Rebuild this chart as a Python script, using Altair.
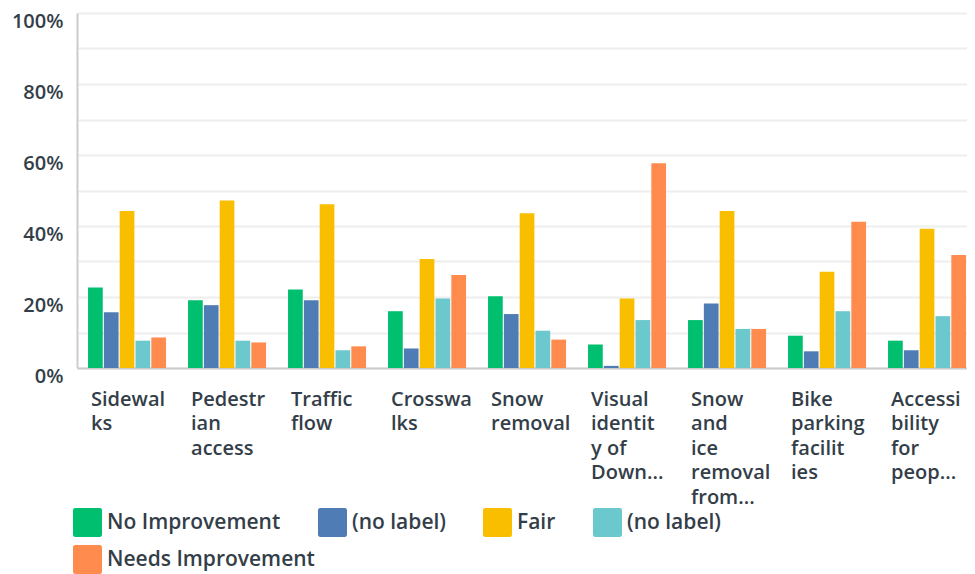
import altair as alt
import pandas as pd

category_labels = ["Sidewal|ks", "Pedestr|ian|access", "Traffic|flow", "Crosswa|lks",
                   "Snow|removal", "Visual|identit|y of|Down...", "Snow|and|ice|removal|from...",
                   "Bike|parking|facilit|ies", "Accessi|bility|for|peop..."]
series_names = ["No Improvement", "(no label)", "Fair", "(no label)", "Needs Improvement"]
series_colors = ["#00BF6F", "#507CB6", "#F9BE00", "#6BC8CD", "#FF8B4F"]

no_improvement = [22.7, 19.1, 22.1, 16.0, 20.2, 6.6, 13.5, 9.1, 7.7]
no_label_1 = [15.7, 17.7, 19.1, 5.5, 15.2, 0.6, 18.2, 4.7, 5.0]
fair = [44.2, 47.2, 46.1, 30.7, 43.6, 19.6, 44.2, 27.1, 39.2]
no_label_2 = [7.7, 7.7, 5.0, 19.6, 10.5, 13.5, 11.0, 16.0, 14.6]
needs_improvement = [8.6, 7.2, 6.1, 26.2, 8.0, 57.7, 11.0, 41.2, 31.8]

series_values = [no_improvement, no_label_1, fair, no_label_2, needs_improvement]
series_keys = [f"{i + 1}|{n}" for i, n in enumerate(series_names)]

rows = []
for key, vals in zip(series_keys, series_values):
    for cat, v in zip(category_labels, vals):
        rows.append({"category": cat, "series": key, "value": v})
df = pd.DataFrame(rows)

TEXT = "#333e48"
FONT = "Open Sans"
rounded_square = ("M -0.85,-1 H 0.85 A 0.15,0.15 0 0 1 1,-0.85 V 0.85 A 0.15,0.15 0 0 1 0.85,1 "
                  "H -0.85 A 0.15,0.15 0 0 1 -1,0.85 V -0.85 A 0.15,0.15 0 0 1 -0.85,-1 Z")

LEG_X = -4
LEG_Y = 495
ROW_STEP = 37


def legend(y):
    return alt.Legend(title=None, orient="none", legendX=LEG_X, legendY=y,
                      direction="horizontal", columns=4,
                      labelExpr="split(datum.label, '|')[1]",
                      symbolType=rounded_square, symbolSize=841,
                      symbolStrokeWidth=0, symbolOpacity=1,
                      labelFontSize=21, labelFontWeight=600, labelColor=TEXT,
                      labelFont=FONT, labelOffset=5, columnPadding=37,
                      rowPadding=8, labelLimit=0)


base = alt.Chart(df).mark_bar().encode(
    x=alt.X("category:N", sort=category_labels, title=None,
            scale=alt.Scale(paddingInner=0.22, paddingOuter=0.06, align=0.92),
            axis=alt.Axis(labelExpr="split(datum.label, '|')", labelAngle=0, labelAlign="left",
                          labelBaseline="top", labelPadding=21, labelLineHeight=24.5,
                          labelFontSize=20, labelFontWeight=600, labelColor=TEXT, labelFont=FONT,
                          ticks=False, domainColor="#cccccc", domainWidth=2, labelOverlap=False,
                          labelLimit=0, labelOffset=-36)),
    xOffset=alt.XOffset("series:N", sort=series_keys,
                        scale=alt.Scale(domain=series_keys, paddingInner=0.07)),
    y=alt.Y("value:Q", title=None, scale=alt.Scale(domain=[0, 100], nice=False),
            axis=alt.Axis(values=list(range(0, 101, 10)),
                          labelExpr="datum.value % 20 == 0 ? datum.value + '%' : ''",
                          gridColor="#eeeeee", gridWidth=2, domainColor="#cccccc", domainWidth=2,
                          ticks=False, labelPadding=14, labelBaseline="middle", labelOffset=8,
                          labelFontSize=20, labelFontWeight=600, labelColor=TEXT, labelFont=FONT)),
)

first_row = base.transform_filter(
    alt.FieldOneOfPredicate(field="series", oneOf=series_keys[:4])
).encode(
    color=alt.Color("series:N", sort=series_keys[:4],
                    scale=alt.Scale(domain=series_keys[:4], range=series_colors[:4]),
                    legend=legend(LEG_Y)),
)

second_row = base.transform_filter(
    alt.FieldOneOfPredicate(field="series", oneOf=series_keys[4:])
).encode(
    color=alt.Color("series:N", sort=series_keys[4:],
                    scale=alt.Scale(domain=series_keys[4:], range=series_colors[4:]),
                    legend=legend(LEG_Y + ROW_STEP)),
)

chart = alt.layer(first_row, second_row).resolve_scale(color="independent").properties(
    width=890, height=355,
    autosize=alt.AutoSizeParams(type="none"),
    padding={"left": 69, "top": 5, "right": 0, "bottom": 206},
).configure_view(stroke=None)

chart.save("out.html", embed_options={"renderer": "svg", "actions": False})
